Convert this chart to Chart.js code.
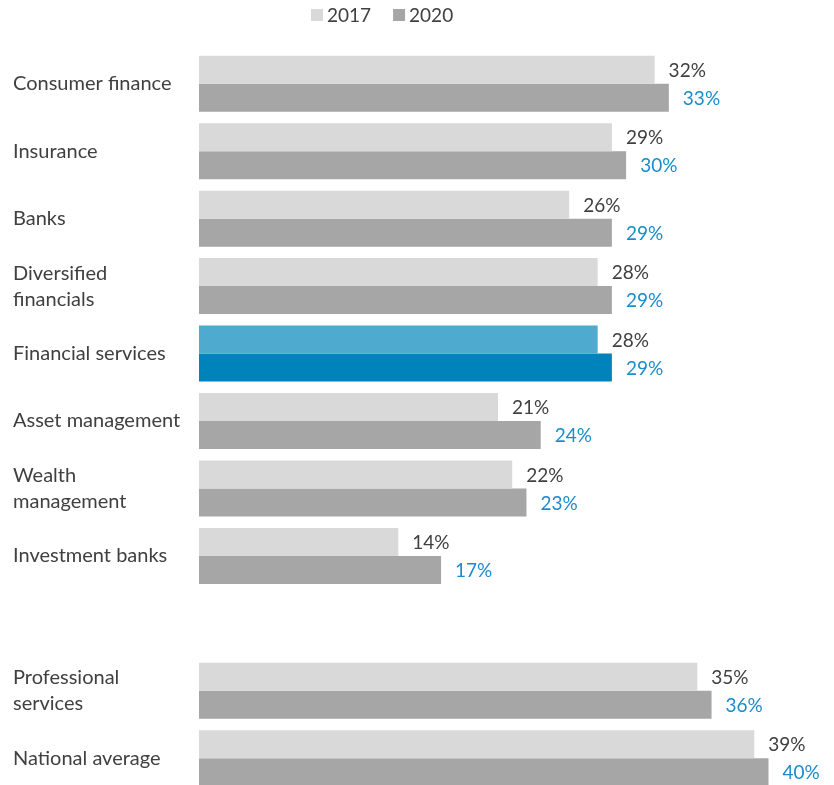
<!DOCTYPE html>
<html>
<head>
<meta charset="utf-8">
<script src="https://cdn.jsdelivr.net/npm/chart.js@4"></script>
<style>
  html, body { margin: 0; padding: 0; background: #fff; overflow: hidden; }
</style>
</head>
<body>
<canvas id="shareChart" width="834" height="805"></canvas>
<script>
// Categories (empty slot separates the financial sectors from the comparison rows)
const categories = [
  'Consumer finance',
  'Insurance',
  'Banks',
  ['Diversified', 'financials'],
  'Financial services',
  'Asset management',
  ['Wealth', 'management'],
  'Investment banks',
  '',
  ['Professional', 'services'],
  'National average'
];
const seriesNames = ['2017', '2020'];
const values2017 = [32, 29, 26, 28, 28, 21, 22, 14, null, 35, 39];
const values2020 = [33, 30, 29, 29, 29, 24, 23, 17, null, 36, 40];
const highlightIndex = 4; // Financial services

// Colours
const GREY_LIGHT = '#d9d9d9';
const GREY_DARK = '#a6a6a6';
const BLUE_LIGHT = '#4faad0';
const BLUE_DARK = '#0083bb';
const TEXT = '#404040';
const LABEL_BLUE = '#1a8ccb';
const FONT = 'Lato, "Open Sans", sans-serif';

function colourFor(base, highlight) {
  return categories.map((c, i) => (i === highlightIndex ? highlight : base));
}

// Value labels at the end of each bar
const valueLabels = {
  id: 'valueLabels',
  afterDatasetsDraw(chart) {
    const ctx = chart.ctx;
    ctx.save();
    ctx.font = '19px ' + FONT;
    ctx.textBaseline = 'middle';
    ctx.textAlign = 'left';
    chart.data.datasets.forEach((ds, di) => {
      const meta = chart.getDatasetMeta(di);
      ctx.fillStyle = di === 0 ? TEXT : LABEL_BLUE;
      meta.data.forEach((bar, i) => {
        const v = ds.data[i];
        if (v == null) return;
        ctx.fillText(v + '%', bar.x + 14, bar.y + 1);
      });
    });
    ctx.restore();
  }
};

// Small legend row above the bars
const topLegend = {
  id: 'topLegend',
  afterDraw(chart) {
    const ctx = chart.ctx;
    ctx.save();
    ctx.font = '19px ' + FONT;
    ctx.textBaseline = 'middle';
    let x = 311;
    const y = 15;
    chart.data.datasets.forEach((ds, di) => {
      ctx.fillStyle = di === 0 ? GREY_LIGHT : GREY_DARK;
      ctx.fillRect(x, y - 6, 12, 12);
      ctx.fillStyle = TEXT;
      ctx.fillText(ds.label, x + 16, y + 1);
      x += 16 + ctx.measureText(ds.label).width + 22;
    });
    ctx.restore();
  }
};

const chart = new Chart(document.getElementById('shareChart'), {
  type: 'bar',
  data: {
    labels: categories,
    datasets: [
      {
        label: seriesNames[0],
        data: values2017,
        backgroundColor: colourFor(GREY_LIGHT, BLUE_LIGHT),
        categoryPercentage: 0.83,
        barPercentage: 1.0
      },
      {
        label: seriesNames[1],
        data: values2020,
        backgroundColor: colourFor(GREY_DARK, BLUE_DARK),
        categoryPercentage: 0.83,
        barPercentage: 1.0
      }
    ]
  },
  options: {
    indexAxis: 'y',
    responsive: false,
    animation: false,
    layout: { padding: { left: 13, top: 50, right: 0, bottom: 0 } },
    plugins: {
      legend: { display: false },
      tooltip: { enabled: false }
    },
    scales: {
      x: {
        display: false,
        min: 0,
        max: 44.6
      },
      y: {
        grid: { display: false },
        border: { display: false },
        afterFit(scale) { scale.width = 186; },
        ticks: {
          crossAlign: 'far',
          color: TEXT,
          font: { family: FONT, size: 20, lineHeight: 1.3 },
          padding: 0
        }
      }
    }
  },
  plugins: [valueLabels, topLegend]
});
</script>
</body>
</html>
